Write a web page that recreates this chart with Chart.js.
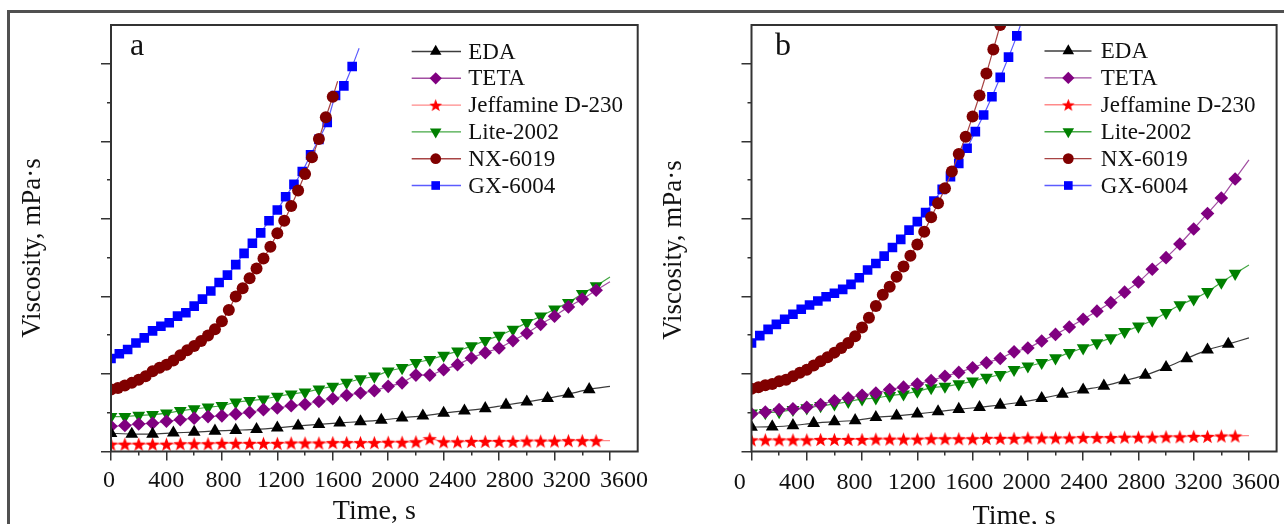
<!DOCTYPE html>
<html>
<head>
<meta charset="utf-8">
<script src="https://cdn.jsdelivr.net/npm/chart.js@4.4.0/dist/chart.umd.min.js"></script>
<style>
  html, body { margin: 0; padding: 0; background: #fff; width: 1284px; height: 524px; overflow: hidden; }
  #frame { position: absolute; left: 7px; top: 10px; width: 1300px; height: 540px;
           border-top: 3px solid #505050; border-left: 3px solid #505050; }
  canvas { position: absolute; top: 0; }
  #chartA { left: 0; }
  #chartB { left: 640px; }
</style>
</head>
<body>
<div id="frame"></div>
<canvas id="chartA" width="680" height="524"></canvas>
<canvas id="chartB" width="644" height="524"></canvas>
<script>
// ---- labels and ticks ----
const seriesNames = ['EDA', 'TETA', 'Jeffamine D-230', 'Lite-2002', 'NX-6019', 'GX-6004'];
const timeTickLabels = [0, 400, 800, 1200, 1600, 2000, 2400, 2800, 3200, 3600];
const minorTimeTicks = [200, 600, 1000, 1400, 1800, 2200, 2600, 3000, 3400];
const majorViscTicks = [0, 2, 4, 6, 8, 10];
const minorViscTicks = [1, 3, 5, 7, 9];
const xTitle = 'Time, s';
const yTitle = 'Viscosity, mPa·s';

// ---- sampling times, s ----
const t150 = [0, 150, 300, 450, 600, 750, 900, 1050, 1200, 1350, 1500, 1650, 1800, 1950, 2100, 2250,
              2400, 2550, 2700, 2850, 3000, 3150, 3300, 3450];
const t100 = [0, 100, 200, 300, 400, 500, 600, 700, 800, 900, 1000, 1100, 1200, 1300, 1400, 1500, 1600,
              1700, 1800, 1900, 2000, 2100, 2200, 2300, 2400, 2500, 2600, 2700, 2800, 2900, 3000, 3100,
              3200, 3300, 3400, 3500];
const t60 = [0, 60, 120, 180, 240, 300, 360, 420, 480, 540, 600, 660, 720, 780, 840, 900, 960, 1020, 1080,
             1140, 1200, 1260, 1320, 1380, 1440, 1500, 1560, 1620, 1680, 1740, 1800, 1860, 1920];
const t50 = [0, 50, 100, 150, 200, 250, 300, 350, 400, 450, 500, 550, 600, 650, 700, 750, 800, 850, 900,
             950, 1000, 1050, 1100, 1150, 1200, 1250, 1300, 1350, 1400, 1450, 1500, 1550, 1600, 1650,
             1700, 1750, 1800];

// ---- panel a: viscosity ----
const edaA  = [0.47, 0.45, 0.45, 0.48, 0.50, 0.53, 0.55, 0.57, 0.61, 0.66, 0.70, 0.74, 0.77, 0.81, 0.87,
               0.92, 0.99, 1.05, 1.11, 1.20, 1.28, 1.37, 1.48, 1.60];
const tetaA = [0.65, 0.67, 0.71, 0.73, 0.78, 0.82, 0.86, 0.90, 0.92, 0.97, 1.01, 1.08, 1.12, 1.18, 1.22,
               1.29, 1.36, 1.45, 1.51, 1.57, 1.68, 1.77, 1.97, 1.97, 2.11, 2.24, 2.41, 2.55, 2.67, 2.86,
               3.05, 3.28, 3.49, 3.73, 3.93, 4.16];
const jeffA = [0.19, 0.19, 0.19, 0.19, 0.19, 0.20, 0.20, 0.20, 0.21, 0.21, 0.21, 0.21, 0.21, 0.22, 0.22,
               0.22, 0.23, 0.23, 0.23, 0.23, 0.24, 0.24, 0.25, 0.33, 0.25, 0.25, 0.26, 0.26, 0.26, 0.26,
               0.27, 0.27, 0.27, 0.28, 0.28, 0.28];
const liteA = [0.90, 0.90, 0.93, 0.95, 0.99, 1.05, 1.10, 1.14, 1.18, 1.27, 1.31, 1.35, 1.42, 1.48, 1.53,
               1.61, 1.68, 1.78, 1.87, 1.94, 2.07, 2.16, 2.29, 2.37, 2.48, 2.59, 2.72, 2.86, 2.99, 3.15,
               3.32, 3.49, 3.67, 3.84, 4.07, 4.27];
const nxA   = [1.60, 1.64, 1.70, 1.77, 1.85, 1.94, 2.07, 2.16, 2.24, 2.35, 2.48, 2.61, 2.72, 2.85, 2.99,
               3.15, 3.36, 3.65, 4.00, 4.21, 4.47, 4.72, 4.98, 5.28, 5.63, 5.95, 6.33, 6.73, 7.16, 7.59,
               8.06, 8.62, 9.15];
const gxA   = [2.40, 2.52, 2.63, 2.80, 2.93, 3.11, 3.23, 3.32, 3.49, 3.58, 3.75, 3.93, 4.14, 4.36, 4.55,
               4.82, 5.11, 5.37, 5.64, 5.95, 6.23, 6.57, 6.89, 7.22, 7.65, 8.05, 8.49, 9.18, 9.43, 9.93];
// end points of the fitted curves [time, viscosity]
const curveEndsA = [[3600, 1.68], [3600, 4.38], [3600, 0.28], [3600, 4.50], [1635, 9.55], [1790, 10.40]];

// ---- panel b: viscosity ----
const edaB  = [0.63, 0.64, 0.67, 0.73, 0.77, 0.80, 0.88, 0.92, 0.97, 1.03, 1.09, 1.14, 1.20, 1.27, 1.37,
               1.48, 1.59, 1.69, 1.83, 1.97, 2.17, 2.40, 2.62, 2.77];
const tetaB = [0.97, 1.02, 1.08, 1.10, 1.14, 1.21, 1.31, 1.38, 1.45, 1.51, 1.60, 1.66, 1.74, 1.83, 1.94,
               2.04, 2.16, 2.29, 2.40, 2.57, 2.67, 2.85, 3.02, 3.21, 3.41, 3.62, 3.84, 4.11, 4.37, 4.70,
               5.00, 5.35, 5.74, 6.14, 6.54, 7.03];
const jeffB = [0.30, 0.30, 0.30, 0.30, 0.30, 0.31, 0.31, 0.31, 0.31, 0.32, 0.32, 0.32, 0.32, 0.33, 0.33,
               0.33, 0.33, 0.34, 0.34, 0.34, 0.35, 0.35, 0.35, 0.35, 0.36, 0.36, 0.36, 0.37, 0.37, 0.37,
               0.38, 0.38, 0.39, 0.39, 0.40, 0.40];
const liteB = [0.99, 1.00, 1.02, 1.08, 1.12, 1.18, 1.22, 1.29, 1.35, 1.38, 1.44, 1.48, 1.55, 1.64, 1.68,
               1.74, 1.81, 1.91, 1.98, 2.11, 2.20, 2.29, 2.41, 2.55, 2.67, 2.80, 2.93, 3.09, 3.23, 3.38,
               3.58, 3.78, 3.93, 4.12, 4.36, 4.59];
const nxB   = [1.62, 1.66, 1.71, 1.74, 1.81, 1.85, 1.94, 2.03, 2.11, 2.22, 2.33, 2.43, 2.55, 2.67, 2.80,
               2.97, 3.20, 3.45, 3.75, 4.04, 4.25, 4.51, 4.77, 5.05, 5.34, 5.67, 6.04, 6.40, 6.79, 7.22,
               7.67, 8.12, 8.64, 9.18, 9.75, 10.37, 11.00];
const gxB   = [2.80, 2.99, 3.15, 3.28, 3.41, 3.54, 3.67, 3.78, 3.88, 3.99, 4.08, 4.18, 4.31, 4.48, 4.68,
               4.85, 5.04, 5.26, 5.47, 5.71, 5.93, 6.16, 6.46, 6.76, 7.09, 7.43, 7.82, 8.25, 8.68, 9.15,
               9.65, 10.17, 10.72];
const curveEndsB = [[3600, 2.93], [3600, 7.52], [3600, 0.41], [3600, 4.81], [1830, 11.40], [1960, 11.15]];

// ---- drawing ----
const SERIF = "'Liberation Serif', 'DejaVu Serif', serif";
Chart.defaults.font.family = SERIF;

// filled five-pointed star used for the Jeffamine markers
function makeStar(size, color) {
  const c = document.createElement('canvas');
  c.width = size; c.height = size;
  const g = c.getContext('2d');
  const cx = size / 2, cy = size / 2 + 0.7, R = size / 2, r = R * 0.42;
  g.beginPath();
  for (let i = 0; i < 10; i++) {
    const rad = (i % 2 === 0 ? R : r);
    const a = -Math.PI / 2 + i * Math.PI / 5;
    const px = cx + rad * Math.cos(a), py = cy + rad * Math.sin(a);
    if (i === 0) g.moveTo(px, py); else g.lineTo(px, py);
  }
  g.closePath();
  g.fillStyle = color;
  g.fill();
  return c;
}
const starRed = makeStar(15, '#ff0000');

const styles = [
  { marker: '#000000', line: '#3c3c3c', pointStyle: 'triangle', rotation: 0,   radius: 7.4 },
  { marker: '#800080', line: '#a24ea2', pointStyle: 'rectRot',  rotation: 0,   radius: 6.8 },
  { marker: '#ff0000', line: '#ff8a8a', pointStyle: starRed,    rotation: 0,   radius: 6 },
  { marker: '#008000', line: '#45a845', pointStyle: 'triangle', rotation: 180, radius: 7.4 },
  { marker: '#800000', line: '#a84444', pointStyle: 'circle',   rotation: 0,   radius: 6.0 },
  { marker: '#0000ff', line: '#5c5cff', pointStyle: 'rect',     rotation: 0,   radius: 6.8 }
];

function makePoints(times, values, end) {
  const pts = values.map((v, i) => ({ x: times[i], y: v }));
  pts.push({ x: end[0], y: end[1] });
  return pts;
}

function makeDatasets(valueSets, timeSets, ends) {
  return valueSets.map((vals, k) => {
    const st = styles[k];
    const n = vals.length;
    return {
      label: seriesNames[k],
      data: makePoints(timeSets[k], vals, ends[k]),
      borderColor: st.line,
      borderWidth: 1.2,
      backgroundColor: st.marker,
      pointBackgroundColor: st.marker,
      pointBorderColor: st.marker,
      pointBorderWidth: 0,
      pointStyle: st.pointStyle,
      pointRotation: st.rotation,
      pointRadius: ctx => (ctx.dataIndex < n ? st.radius : 0),
      pointHoverRadius: 0,
      tension: 0.25,
      fill: false
    };
  });
}

function drawMarker(ctx, st, x, y, scale) {
  ctx.save();
  ctx.fillStyle = st.marker;
  const r = st.radius * scale;
  if (typeof st.pointStyle === 'object') {
    const im = st.pointStyle;
    const w = im.width * scale, h = im.height * scale;
    ctx.drawImage(im, x - w / 2, y - h / 2, w, h);
    ctx.restore();
    return;
  }
  ctx.translate(x, y);
  ctx.rotate(st.rotation * Math.PI / 180);
  ctx.beginPath();
  if (st.pointStyle === 'triangle') {
    for (let i = 0; i < 3; i++) {
      const a = -Math.PI / 2 + i * 2 * Math.PI / 3;
      if (i === 0) ctx.moveTo(r * Math.cos(a), r * Math.sin(a));
      else ctx.lineTo(r * Math.cos(a), r * Math.sin(a));
    }
  } else if (st.pointStyle === 'rectRot') {
    ctx.moveTo(0, -r); ctx.lineTo(r, 0); ctx.lineTo(0, r); ctx.lineTo(-r, 0);
  } else if (st.pointStyle === 'circle') {
    ctx.arc(0, 0, r, 0, Math.PI * 2);
  } else {
    const s = r * Math.SQRT1_2;
    ctx.rect(-s, -s, 2 * s, 2 * s);
  }
  ctx.closePath();
  ctx.fill();
  ctx.restore();
}

// key drawn inside the plot area, top right
const insetLegend = {
  id: 'insetLegend',
  afterDatasetsDraw(chart, args, o) {
    const { ctx, chartArea } = chart;
    const L = chartArea.left;
    ctx.save();
    styles.forEach((st, i) => {
      const y = o.top + i * o.rowGap;
      ctx.strokeStyle = st.line;
      ctx.lineWidth = 1.4;
      ctx.beginPath();
      ctx.moveTo(L + o.lineStart, y);
      ctx.lineTo(L + o.lineEnd, y);
      ctx.stroke();
      drawMarker(ctx, st, L + o.markerX, y, 0.9);
      ctx.fillStyle = '#111';
      ctx.font = '23px ' + SERIF;
      ctx.textBaseline = 'middle';
      ctx.textAlign = 'left';
      ctx.fillText(seriesNames[i], L + o.textX, y + 1);
    });
    ctx.restore();
  }
};

// plot frame, panel letter and vertical axis title
const panelDecor = {
  id: 'panelDecor',
  afterDraw(chart, args, o) {
    const { ctx, chartArea } = chart;
    ctx.save();
    ctx.strokeStyle = '#333';
    ctx.lineWidth = 2;
    ctx.strokeRect(chartArea.left, chartArea.top, chartArea.right - chartArea.left, chartArea.bottom - chartArea.top);
    ctx.fillStyle = '#111';
    ctx.font = '32px ' + SERIF;
    ctx.textBaseline = 'alphabetic';
    ctx.textAlign = 'left';
    ctx.fillText(o.letter, chartArea.left + o.dx, o.baseline);
    ctx.translate(o.yTitleX, o.yTitleY);
    ctx.rotate(-Math.PI / 2);
    ctx.font = '27px ' + SERIF;
    ctx.textAlign = 'center';
    ctx.textBaseline = 'middle';
    ctx.fillText(yTitle, 0, 0);
    ctx.restore();
  }
};

function tickList(values) {
  return scale => { scale.ticks = values.map(v => ({ value: v })); };
}

function buildScales(p) {
  const tickGrid = len => ({ drawOnChartArea: false, drawTicks: true, tickLength: len, color: '#333', lineWidth: 1.5 });
  return {
    x: {
      type: 'linear', min: 0, max: 3800, position: 'bottom', weight: 0,
      afterBuildTicks: tickList(minorTimeTicks),
      afterFit: s => { s.height = 0; },
      ticks: { display: false }, border: { display: false }, grid: tickGrid(4)
    },
    xMajor: {
      type: 'linear', min: 0, max: 3800, position: 'bottom', weight: 1,
      afterBuildTicks: tickList(timeTickLabels),
      afterFit: s => { s.height = 0; },
      ticks: { display: false }, border: { display: false }, grid: tickGrid(9)
    },
    xLabels: {
      type: 'linear', min: p.labelMin, max: p.labelMax, position: 'bottom', weight: 2,
      afterBuildTicks: tickList(timeTickLabels),
      afterFit: s => { s.height = 524 - p.plotBottom; s.paddingLeft = 0; s.paddingRight = 0; },
      grid: { display: false }, border: { display: false },
      ticks: {
        autoSkip: false, maxRotation: 0, minRotation: 0, padding: p.tickPad, color: '#111',
        font: { family: SERIF, size: 24, lineHeight: 1 },
        callback: v => String(v)
      },
      title: {
        display: true, text: xTitle, color: '#111',
        font: { family: SERIF, size: 28, lineHeight: 1 },
        padding: { top: 0, bottom: p.titlePad }
      }
    },
    y: {
      type: 'linear', min: 0, max: 11, position: 'left', weight: 0,
      afterBuildTicks: tickList(minorViscTicks),
      afterFit: s => { s.width = 0; },
      ticks: { display: false }, border: { display: false }, grid: tickGrid(4)
    },
    yMajor: {
      type: 'linear', min: 0, max: 11, position: 'left', weight: 1,
      afterBuildTicks: tickList(majorViscTicks),
      afterFit: s => { s.width = p.plotLeft; },
      ticks: { display: false }, border: { display: false }, grid: tickGrid(10)
    }
  };
}

function makeChart(id, datasets, p) {
  return new Chart(document.getElementById(id), {
    type: 'line',
    data: { datasets },
    options: {
      responsive: false, animation: false, devicePixelRatio: 1, events: [],
      layout: { padding: { left: 0, right: p.rightPad, top: 25, bottom: 0 } },
      scales: buildScales(p),
      plugins: {
        legend: { display: false }, tooltip: { enabled: false },
        insetLegend: p.legend,
        panelDecor: p.decor
      }
    },
    plugins: [insetLegend, panelDecor]
  });
}

const timesA = [t150, t100, t100, t100, t50, t60];
const timesB = [t150, t100, t100, t100, t50, t60];

makeChart('chartA', makeDatasets([edaA, tetaA, jeffA, liteA, nxA, gxA], timesA, curveEndsA), {
  plotLeft: 111, plotBottom: 451.5, rightPad: 42.3,
  labelMin: 14, labelMax: 3695, tickPad: 9.5, titlePad: -2,
  legend: { top: 51.5, rowGap: 26.8, lineStart: 300.7, lineEnd: 350, markerX: 324.7, textX: 357.3 },
  decor: { letter: 'a', dx: 19, baseline: 55, yTitleX: 33, yTitleY: 248 }
});

makeChart('chartB', makeDatasets([edaB, tetaB, jeffB, liteB, nxB, gxB], timesB, curveEndsB), {
  plotLeft: 111.5, plotBottom: 451.5, rightPad: 6,
  labelMin: 82, labelMax: 3744, tickPad: 11, titlePad: -7,
  legend: { top: 51, rowGap: 26.9, lineStart: 293, lineEnd: 340, markerX: 316.8, textX: 349.3 },
  decor: { letter: 'b', dx: 23.5, baseline: 55, yTitleX: 34, yTitleY: 250 }
});
</script>
</body>
</html>
